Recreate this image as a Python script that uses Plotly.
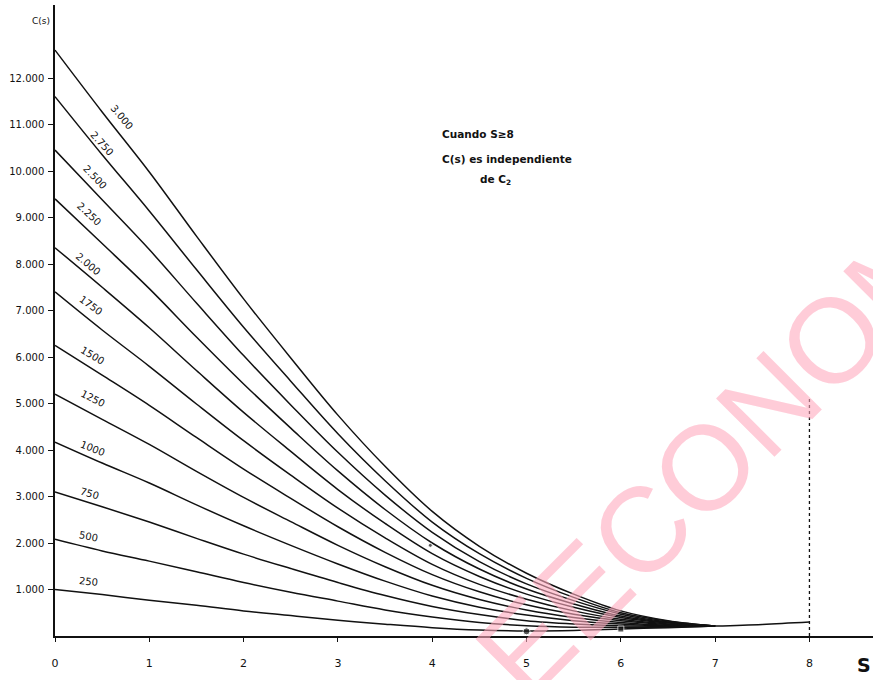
import plotly.graph_objects as go

# ---------------- data ----------------
s_vals = [0, 0.5, 1, 1.5, 2, 2.5, 3, 3.5, 4, 4.5, 5, 5.5, 6, 6.5, 7]

c2_levels = [250, 500, 750, 1000, 1250, 1500, 1750, 2000, 2250, 2500, 2750, 3000]
curve_labels = ["250", "500", "750", "1000", "1250", "1500", "1750",
                "2.000", "2.250", "2.500", "2.750", "3.000"]

c250 = [1000, 890, 770, 660, 540, 440, 340, 255, 180, 130, 110, 120, 150, 180, 215]
c500 = [2080, 1830, 1610, 1380, 1150, 940, 750, 560, 410, 290, 220, 190, 190, 190, 215]
c750 = [3100, 2780, 2450, 2100, 1760, 1450, 1150, 870, 635, 460, 330, 260, 220, 210, 215]
c1000 = [4170, 3720, 3290, 2820, 2370, 1950, 1550, 1180, 860, 620, 450, 330, 260, 220, 215]
c1250 = [5200, 4660, 4120, 3540, 2980, 2460, 1950, 1490, 1090, 785, 560, 400, 290, 230, 215]
c1500 = [6250, 5610, 4960, 4270, 3590, 2960, 2350, 1800, 1320, 950, 670, 470, 330, 250, 215]
c1750 = [7400, 6580, 5800, 4990, 4200, 3460, 2750, 2110, 1540, 1110, 790, 540, 360, 260, 215]
c2000 = [8350, 7500, 6630, 5710, 4810, 3970, 3150, 2420, 1770, 1280, 900, 620, 400, 280, 215]
c2250 = [9400, 8440, 7470, 6430, 5420, 4470, 3550, 2720, 2000, 1440, 1010, 690, 430, 290, 215]
c2500 = [10450, 9380, 8310, 7160, 6030, 4970, 3950, 3030, 2230, 1600, 1120, 760, 470, 300, 215]
c2750 = [11600, 10350, 9140, 7880, 6640, 5480, 4350, 3340, 2450, 1770, 1240, 830, 500, 320, 215]
c3000 = [12600, 11270, 9980, 8600, 7250, 5980, 4750, 3650, 2680, 1930, 1350, 900, 540, 330, 215]

curves = [c250, c500, c750, c1000, c1250, c1500, c1750, c2000, c2250, c2500, c2750, c3000]

# common part once all curves meet
s_tail = [7, 7.5, 8]
c_tail = [215, 250, 300]

# dashed limit at S = 8
s_limit = [8, 8]
c_limit = [0, 5160]

# stray marks on the drawing
mark_s = [5.0, 6.0, 3.98]
mark_c = [100, 150, 1950]

x_ticks = [0, 1, 2, 3, 4, 5, 6, 7, 8]
y_ticks = [1000, 2000, 3000, 4000, 5000, 6000, 7000, 8000, 9000, 10000, 11000, 12000]
y_ticktext = ["1.000", "2.000", "3.000", "4.000", "5.000", "6.000", "7.000",
              "8.000", "9.000", "10.000", "11.000", "12.000"]

# ---------------- label placement (layout) ----------------
label_pos = [  # (s, C, angle) for each curve label, same order as curves
    (0.35, 1180, 6), (0.36, 2150, 11), (0.37, 3060, 16), (0.40, 4040, 22),
    (0.40, 5100, 27), (0.40, 6040, 31), (0.38, 7100, 36), (0.36, 8000, 40),
    (0.37, 9075, 43), (0.43, 9870, 46), (0.50, 10600, 48), (0.71, 11140, 50),
]

fig = go.Figure()

for vals in curves:
    fig.add_trace(go.Scatter(x=s_vals, y=vals, mode="lines",
                             line=dict(color="#111111", width=1.5, shape="spline"),
                             hoverinfo="skip"))

fig.add_trace(go.Scatter(x=s_tail, y=c_tail, mode="lines",
                         line=dict(color="#111111", width=1.5, shape="spline"),
                         hoverinfo="skip"))

fig.add_trace(go.Scatter(x=s_limit, y=c_limit, mode="lines",
                         line=dict(color="#111111", width=1.3, dash="3px,3px"),
                         hoverinfo="skip"))

fig.add_trace(go.Scatter(x=mark_s, y=mark_c, mode="markers",
                         marker=dict(color="#111111", size=[7, 6, 4],
                                     symbol=["circle", "square", "circle"]),
                         hoverinfo="skip"))

annotations = []
for txt, (sx, cy, ang) in zip(curve_labels, label_pos):
    annotations.append(dict(x=sx, y=cy, xref="x", yref="y", text=txt,
                            showarrow=False, textangle=ang,
                            font=dict(family="DejaVu Sans", size=10, color="#111111"),
                            xanchor="center", yanchor="middle"))

note_font = dict(family="DejaVu Sans", size=10.5, color="#111111")
annotations += [
    dict(x=4.08, y=10800, xref="x", yref="y", text="<b>Cuando S≥8</b>",
         showarrow=False, xanchor="left", yanchor="middle", font=note_font),
    dict(x=4.08, y=10260, xref="x", yref="y", text="<b>C(s) es independiente</b>",
         showarrow=False, xanchor="left", yanchor="middle", font=note_font),
    dict(x=4.49, y=9800, xref="x", yref="y", text="<b>de C<sub>2</sub></b>",
         showarrow=False, xanchor="left", yanchor="middle", font=note_font),
    # axis titles
    dict(x=-0.004, y=0.975, xref="paper", yref="paper", text="C(s)",
         showarrow=False, xanchor="right", yanchor="middle",
         font=dict(family="DejaVu Sans", size=9, color="#111111")),
    dict(x=1.0, y=-0.046, xref="paper", yref="paper", text="<b>S</b>",
         showarrow=False, xanchor="right", yanchor="middle",
         font=dict(family="DejaVu Sans", size=19, color="#111111")),
    # pink watermark
    dict(x=0.858, y=0.35, xref="paper", yref="paper", text="EECONOMIA",
         showarrow=False, textangle=-45, xanchor="center", yanchor="middle",
         font=dict(family="Liberation Sans", size=120, color="rgba(255,170,190,0.6)")),
]

fig.update_layout(
    width=873, height=680,
    margin=dict(l=55, r=0, t=5, b=44),
    plot_bgcolor="white", paper_bgcolor="white",
    showlegend=False,
    annotations=annotations,
    xaxis=dict(range=[0, 8.674], tickvals=x_ticks, ticks="outside", ticklen=4,
               tickcolor="#111111", showline=True, linecolor="#111111", linewidth=1.5,
               showgrid=False, zeroline=False, ticklabelstandoff=12,
               tickfont=dict(family="DejaVu Sans", size=11, color="#111111")),
    yaxis=dict(range=[0, 13570], tickvals=y_ticks, ticktext=y_ticktext,
               ticks="outside", ticklen=5, tickcolor="#111111",
               showline=True, linecolor="#111111", linewidth=1.5,
               showgrid=False, zeroline=False, ticklabelstandoff=2,
               tickfont=dict(family="DejaVu Sans", size=10, color="#111111")),
)

fig.write_html("out.html",
               config={"displayModeBar": False},
               post_script="document.body.style.margin='0';document.body.style.overflow='hidden';")
